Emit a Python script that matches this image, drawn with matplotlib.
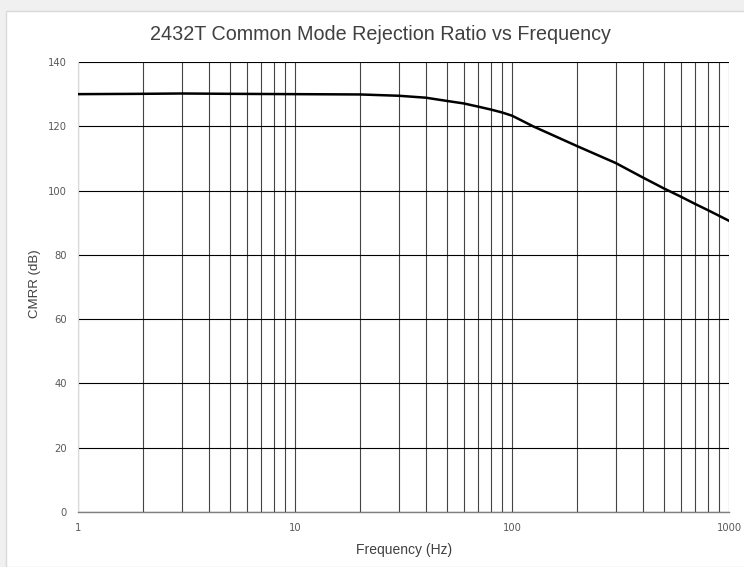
import matplotlib
matplotlib.use("Agg")
from matplotlib import pyplot as plt
from matplotlib.patches import Rectangle
from matplotlib.ticker import FixedLocator, LogLocator, NullFormatter

# values
freq = [1, 2, 3, 5, 10, 20, 30, 40, 50, 60, 70, 80, 90, 100, 110, 125, 150,
        200, 300, 400, 500, 600, 700, 800, 1000]
cmrr = [130.0, 130.1, 130.2, 130.1, 130.0, 129.9, 129.5, 128.9, 127.9, 127.1,
        126.1, 125.2, 124.3, 123.3, 121.9, 120.0, 117.6,
        113.8, 108.6, 104.1, 100.7, 98.1, 95.8, 93.9, 90.6]
xticks = [1, 10, 100, 1000]
yticks = [0, 20, 40, 60, 80, 100, 120, 140]

fig = plt.figure(figsize=(7.44, 5.67), dpi=100)
fig.patch.set_facecolor("#f0f0f0")
# white chart area behind the axes
fig.patches.append(Rectangle((6 / 744, 0), 1, 1 - 11 / 567, transform=fig.transFigure,
                             facecolor="white", edgecolor="#d9d9d9", linewidth=1,
                             zorder=-10))

ax = fig.add_axes([78 / 744, 55 / 567, 651 / 744, 450 / 567])
ax.set_facecolor("white")

ax.plot(freq, cmrr, color="black", linewidth=1.8, zorder=3)

ax.set_xscale("log")
ax.set_xlim(1, 1000)
ax.set_ylim(0, 140)
ax.xaxis.set_major_locator(FixedLocator(xticks))
ax.xaxis.set_minor_locator(LogLocator(base=10, subs=range(2, 10)))
ax.xaxis.set_minor_formatter(NullFormatter())
ax.set_xticklabels([str(t) for t in xticks])
ax.set_yticks(yticks)

ax.grid(True, which="major", axis="y", color="black", linewidth=0.8)
ax.grid(True, which="both", axis="x", color="#444444", linewidth=0.8)
ax.tick_params(which="both", length=0, labelsize=7.2, labelcolor="#595959", pad=8)
for lbl in ax.get_xticklabels() + ax.get_yticklabels():
    lbl.set_family("DejaVu Sans")

for s in ["top", "right"]:
    ax.spines[s].set_visible(False)
ax.spines["left"].set_color("#d9d9d9")
ax.spines["bottom"].set_color("#7f7f7f")
ax.spines["bottom"].set_linewidth(1.0)

fig.text(380 / 744, 1 - 35 / 567, "2432T Common Mode Rejection Ratio vs Frequency",
         ha="center", va="center", fontsize=14.2, color="#404040", family="Liberation Sans")
fig.text(404 / 744, 1 - 550 / 567, "Frequency (Hz)", ha="center", va="center",
         fontsize=10, color="#404040", family="Liberation Sans")
fig.text(35 / 744, 1 - 284 / 567, "CMRR (dB)", ha="center", va="center", rotation=90,
         fontsize=9.5, color="#404040", family="Liberation Sans")

fig.savefig("out.png", dpi=100, facecolor=fig.get_facecolor())
